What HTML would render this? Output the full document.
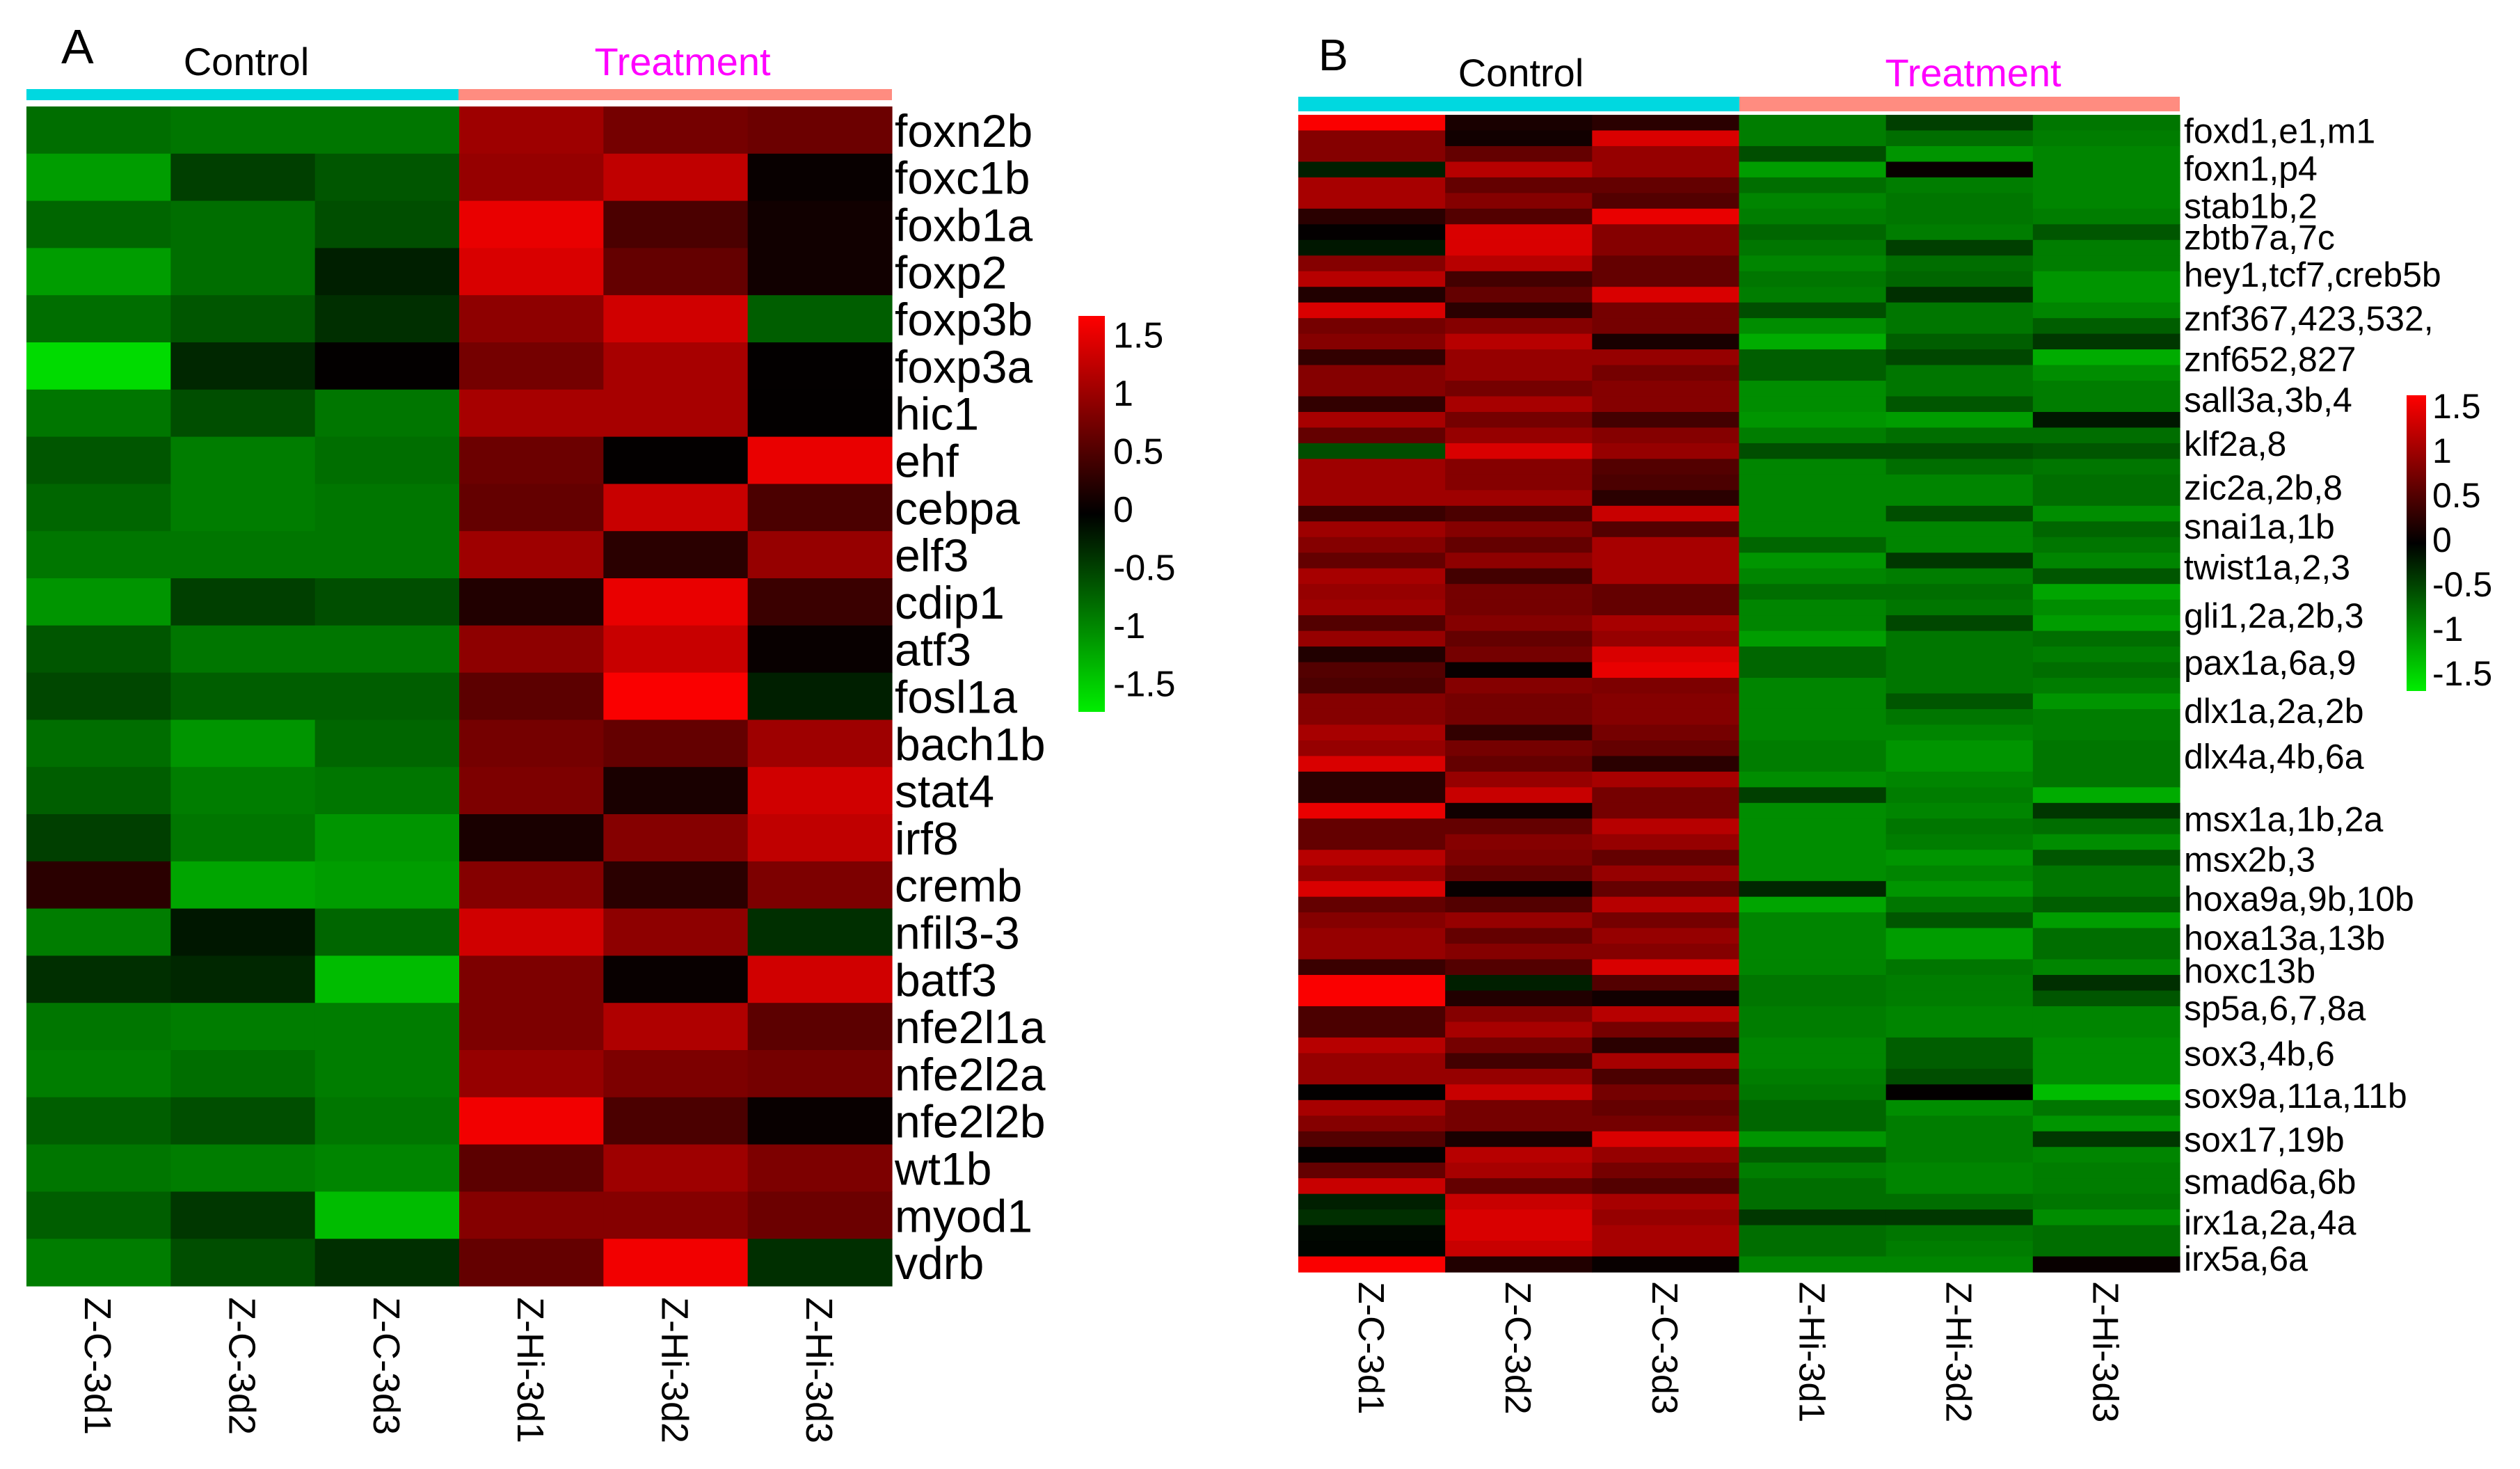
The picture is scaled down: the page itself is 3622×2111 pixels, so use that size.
<!DOCTYPE html>
<html><head><meta charset="utf-8">
<style>
html,body{margin:0;padding:0;background:#fff;}
svg{display:block;}
text{font-family:"Liberation Sans",Arial,sans-serif;fill:#000;}
</style></head>
<body>
<svg id="fig" width="3622" height="2111" viewBox="0 0 3622 2111" xmlns="http://www.w3.org/2000/svg">
<defs>
<linearGradient id="cbar" x1="0" y1="0" x2="0" y2="1">
<stop offset="0" stop-color="#ff0000"/>
<stop offset="0.5" stop-color="#000000"/>
<stop offset="1" stop-color="#00ee00"/>
</linearGradient>
</defs>
<g id="panelA">
<text x="88" y="91" font-size="70">A</text>
<text x="354" y="108" font-size="56" text-anchor="middle">Control</text>
<text x="981" y="108" font-size="56" text-anchor="middle" style="fill:#ff00ff">Treatment</text>
<rect x="38" y="128" width="621" height="16" fill="#00d8e0"/>
<rect x="659" y="128" width="623" height="16" fill="#ff8c80"/>
<rect x="1550" y="454" width="38" height="569" fill="url(#cbar)"/>
</g>
<g id="panelB">
<text x="1895" y="101" font-size="64">B</text>
<text x="2186" y="124" font-size="56" text-anchor="middle">Control</text>
<text x="2836" y="124" font-size="56" text-anchor="middle" style="fill:#ff00ff">Treatment</text>
<rect x="1866" y="139" width="634" height="21" fill="#00d8e0"/>
<rect x="2500" y="139" width="633" height="21" fill="#ff8c80"/>
<rect x="3459" y="568" width="28" height="425" fill="url(#cbar)"/>
</g>
</svg>
<script>
const samples = ["Z-C-3d1","Z-C-3d2","Z-C-3d3","Z-Hi-3d1","Z-Hi-3d2","Z-Hi-3d3"];
const scaleTicks = [1.5,1,0.5,0,-0.5,-1,-1.5];
const scaleTickLabels = ["1.5","1","0.5","0","-0.5","-1","-1.5"];
const genesA = ["foxn2b","foxc1b","foxb1a","foxp2","foxp3b","foxp3a","hic1","ehf","cebpa","elf3","cdip1","atf3","fosl1a","bach1b","stat4","irf8","cremb","nfil3-3","batf3","nfe2l1a","nfe2l2a","nfe2l2b","wt1b","myod1","vdrb"];
const valuesA = [
[-0.7,-0.75,-0.75,0.95,0.7,0.65],
[-1.0,-0.4,-0.55,0.9,1.15,0.05],
[-0.65,-0.7,-0.5,1.4,0.45,0.1],
[-1.0,-0.7,-0.2,1.3,0.6,0.1],
[-0.7,-0.55,-0.3,0.85,1.25,-0.6],
[-1.4,-0.25,0.02,0.7,1.0,0.02],
[-0.75,-0.5,-0.75,1.0,1.0,0.02],
[-0.55,-0.8,-0.7,0.65,0.02,1.4],
[-0.65,-0.8,-0.75,0.6,1.2,0.45],
[-0.75,-0.75,-0.75,0.95,0.25,0.9],
[-0.95,-0.4,-0.5,0.2,1.4,0.35],
[-0.55,-0.75,-0.75,0.85,1.2,0.05],
[-0.45,-0.6,-0.6,0.55,1.5,-0.2],
[-0.7,-0.95,-0.65,0.7,0.6,0.95],
[-0.6,-0.8,-0.75,0.75,0.15,1.25],
[-0.4,-0.75,-0.95,0.15,0.8,1.15],
[0.25,-1.05,-1.0,0.8,0.25,0.75],
[-0.8,-0.15,-0.65,1.25,0.85,-0.3],
[-0.3,-0.25,-1.2,0.75,0.05,1.25],
[-0.75,-0.8,-0.8,0.75,1.05,0.55],
[-0.8,-0.7,-0.8,0.9,0.75,0.7],
[-0.6,-0.5,-0.75,1.45,0.45,0.05],
[-0.75,-0.8,-0.85,0.55,0.95,0.75],
[-0.6,-0.35,-1.2,0.8,0.8,0.65],
[-0.8,-0.5,-0.3,0.6,1.45,-0.3]
];
const valuesB = [
[1.5,0.15,0.25,-0.8,-0.4,-0.75],
[0.8,0.1,1.3,-0.8,-0.7,-0.8],
[0.8,0.6,0.9,-0.5,-0.95,-0.85],
[-0.2,1.1,0.9,-1.0,0.05,-0.85],
[1.0,0.6,0.6,-0.7,-0.8,-0.85],
[1.0,0.8,0.5,-0.85,-0.75,-0.85],
[0.25,0.5,1.4,-0.8,-0.75,-0.8],
[0.02,1.3,0.8,-0.65,-0.8,-0.55],
[-0.15,1.3,0.8,-0.75,-0.4,-0.8],
[0.8,1.1,0.6,-0.85,-0.7,-0.8],
[1.1,0.4,0.6,-0.75,-0.65,-0.95],
[0.2,0.6,1.3,-0.8,-0.3,-0.95],
[1.3,0.25,0.7,-0.5,-0.75,-0.85],
[0.7,0.8,0.7,-0.9,-0.75,-0.6],
[0.8,1.1,0.15,-1.1,-0.6,-0.35],
[0.3,0.9,0.9,-0.6,-0.45,-1.1],
[0.8,0.9,0.7,-0.6,-0.75,-0.9],
[0.8,0.7,0.8,-0.9,-0.75,-0.8],
[0.3,1.0,0.8,-0.9,-0.55,-0.8],
[1.0,0.7,0.4,-0.95,-1.0,-0.15],
[0.6,0.9,0.8,-0.8,-0.7,-0.7],
[-0.5,1.3,0.9,-0.5,-0.5,-0.55],
[0.95,0.8,0.5,-0.85,-0.7,-0.75],
[0.95,0.8,0.45,-0.85,-0.85,-0.7],
[0.95,0.95,0.25,-0.85,-0.85,-0.7],
[0.35,0.45,1.2,-0.85,-0.5,-0.9],
[0.95,0.8,0.5,-0.85,-0.85,-0.65],
[0.8,0.6,1.0,-0.65,-0.85,-0.75],
[0.6,0.85,1.0,-0.95,-0.35,-0.85],
[1.0,0.4,1.0,-0.85,-0.8,-0.55],
[0.9,0.7,0.6,-0.7,-0.7,-1.05],
[0.95,0.7,0.6,-0.85,-0.75,-0.9],
[0.5,0.8,1.0,-0.85,-0.45,-1.0],
[0.9,0.6,0.9,-1.0,-0.75,-0.7],
[0.2,0.7,1.3,-0.65,-0.75,-0.8],
[0.5,0.05,1.4,-0.65,-0.75,-0.7],
[0.45,0.8,0.75,-0.85,-0.75,-0.8],
[0.8,0.7,0.8,-0.85,-0.55,-0.95],
[0.8,0.7,0.8,-0.85,-0.75,-0.8],
[1.0,0.3,0.7,-0.85,-0.85,-0.8],
[0.9,0.7,0.6,-0.8,-0.95,-0.75],
[1.3,0.6,0.25,-0.8,-0.95,-0.75],
[0.25,0.9,1.0,-0.9,-0.85,-0.75],
[0.25,1.2,0.7,-0.4,-0.8,-1.1],
[1.4,0.1,0.7,-0.9,-0.85,-0.35],
[0.6,0.6,1.1,-0.9,-0.75,-0.7],
[0.6,0.8,0.9,-0.9,-0.8,-0.9],
[1.1,0.75,0.6,-0.9,-0.95,-0.55],
[0.9,0.6,0.9,-0.9,-0.85,-0.75],
[1.3,0.05,0.6,-0.25,-0.95,-0.75],
[0.6,0.5,1.1,-1.05,-0.75,-0.6],
[0.8,0.9,0.7,-0.85,-0.55,-1.0],
[0.9,0.6,0.9,-0.85,-1.0,-0.7],
[0.9,0.8,0.8,-0.85,-1.0,-0.7],
[0.35,0.5,1.3,-0.85,-0.75,-0.85],
[1.5,-0.2,0.5,-0.75,-0.8,-0.3],
[1.5,0.2,0.1,-0.75,-0.8,-0.55],
[0.45,0.8,1.1,-0.8,-0.85,-0.85],
[0.45,1.0,0.7,-0.8,-0.85,-0.85],
[1.1,0.7,0.25,-0.85,-0.6,-0.9],
[0.9,0.4,1.0,-0.85,-0.6,-0.9],
[0.9,0.9,0.45,-0.8,-0.5,-0.9],
[0.02,1.2,0.7,-0.75,0.02,-1.2],
[1.0,0.7,0.6,-0.65,-0.9,-0.75],
[0.8,0.7,0.7,-0.65,-0.8,-0.95],
[0.5,0.15,1.3,-0.95,-0.8,-0.35],
[0.03,1.1,0.9,-0.6,-0.8,-0.85],
[0.6,1.0,0.7,-0.8,-0.85,-0.8],
[1.2,0.6,0.5,-0.7,-0.85,-0.8],
[-0.2,1.2,1.0,-0.7,-0.7,-0.75],
[-0.3,1.3,0.9,-0.35,-0.35,-0.9],
[-0.05,1.3,1.0,-0.7,-0.75,-0.7],
[-0.03,1.2,1.0,-0.7,-0.8,-0.7],
[1.5,0.2,0.05,-0.85,-0.85,0.05]
];
const labelsB = ["foxd1,e1,m1","foxn1,p4","stab1b,2","zbtb7a,7c","hey1,tcf7,creb5b","znf367,423,532,","znf652,827","sall3a,3b,4","klf2a,8","zic2a,2b,8","snai1a,1b","twist1a,2,3","gli1,2a,2b,3","pax1a,6a,9","dlx1a,2a,2b","dlx4a,4b,6a","msx1a,1b,2a","msx2b,3","hoxa9a,9b,10b","hoxa13a,13b","hoxc13b","sp5a,6,7,8a","sox3,4b,6","sox9a,11a,11b","sox17,19b","smad6a,6b","irx1a,2a,4a","irx5a,6a"];
const labelRowsB = [1.0,3.4,5.8,7.8,10.2,13.0,15.6,18.2,21.0,23.8,26.3,28.9,32.0,35.0,38.1,41.0,45.0,47.6,50.1,52.6,54.7,57.1,60.0,62.7,65.5,68.2,70.8,73.1];

const NS = "http://www.w3.org/2000/svg";
const svg = document.getElementById("fig");
function colorOf(v){
  const t = Math.max(-1.5, Math.min(1.5, v)) / 1.5;
  if (t >= 0) return "rgb(" + Math.round(t*250) + ",0,0)";
  return "rgb(0," + Math.round(-t*235) + ",0)";
}
function mk(tag, attrs){
  const e = document.createElementNS(NS, tag);
  for (const k in attrs) e.setAttribute(k, attrs[k]);
  return e;
}
function drawHeatmap(parentId, vals, x0, x1, y0, y1, prefix){
  const g = document.getElementById(parentId);
  const nr = vals.length, nc = samples.length;
  const cw = (x1 - x0) / nc, rh = (y1 - y0) / nr;
  const xPos = c => x0 + c * cw;
  const yPos = r => y0 + r * rh;
  for (let r = 0; r < nr; r++){
    for (let c = 0; c < nc; c++){
      const rect = mk("rect", {x: xPos(c), y: yPos(r), width: cw + 0.6, height: rh + 0.6, fill: colorOf(vals[r][c])});
      
      
      g.appendChild(rect);
    }
  }
  return {xPos, yPos, cw, rh};
}
function drawScale(parentId, x, yTop, yBot, fs, prefix){
  const g = document.getElementById(parentId);
  const yv = v => yTop + (1.5 - v) / 3 * (yBot - yTop);
  scaleTicks.forEach((v, i) => {
    const t = mk("text", {x: x, y: yv(v) + fs*0.36, "font-size": fs});
    t.textContent = scaleTickLabels[i];
    
    
    g.appendChild(t);
  });
}
function drawColLabels(parentId, ax, yTop, fs, prefix){
  const g = document.getElementById(parentId);
  samples.forEach((s, c) => {
    const cx = ax.xPos(c) + ax.cw/2;
    const t = mk("text", {x: 0, y: 0, "font-size": fs, transform: "translate(" + (cx - fs*0.36) + "," + yTop + ") rotate(90)"});
    t.textContent = s;
    
    
    g.appendChild(t);
  });
}

// Panel A
const axA = drawHeatmap("panelA", valuesA, 38, 1282, 153, 1848, "panel-a");
genesA.forEach((gname, r) => {
  const t = mk("text", {x: 1286, y: axA.yPos(r) + axA.rh/2 + 24, "font-size": 66});
  t.textContent = gname;
  
  
  document.getElementById("panelA").appendChild(t);
});
drawScale("panelA", 1600, 481, 982, 52, "panel-a");
drawColLabels("panelA", axA, 1864, 54, "panel-a");

// Panel B
const axB = drawHeatmap("panelB", valuesB, 1866, 3133, 165, 1828, "panel-b");
labelsB.forEach((lbl, i) => {
  const t = mk("text", {x: 3139, y: axB.yPos(labelRowsB[i]) + 18, "font-size": 50});
  t.textContent = lbl;
  
  
  document.getElementById("panelB").appendChild(t);
});
drawScale("panelB", 3496, 583, 967, 50, "panel-b");
drawColLabels("panelB", axB, 1842, 52, "panel-b");
</script>
</body></html>
